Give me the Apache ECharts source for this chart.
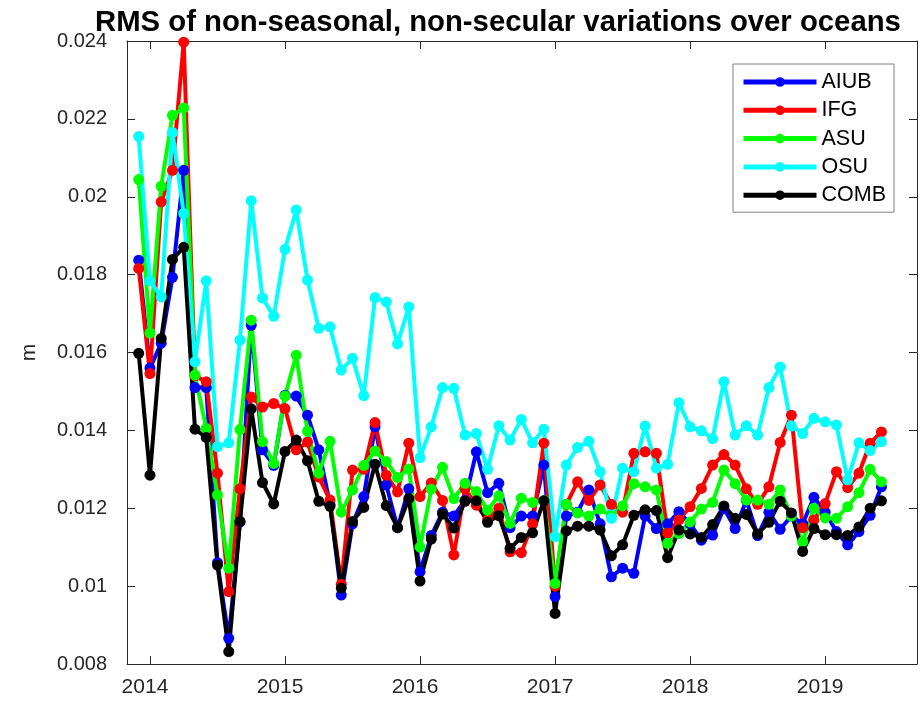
<!DOCTYPE html>
<html>
<head>
<meta charset="utf-8">
<script src="https://cdn.jsdelivr.net/npm/echarts@6/dist/echarts.min.js"></script>
<style>
  html, body { margin: 0; padding: 0; background: #fff; }
  #main { width: 922px; height: 704px; }
</style>
</head>
<body>
<div id="main"></div>
<script>
// monthly solutions, Dec 2013 .. Jun 2019 (decimal years)
var months = [];
for (var y = 2013, m = 12; y < 2019 || (y === 2019 && m <= 6); m++) {
  if (m > 12) { m = 1; y++; }
  if (y === 2019 && m > 6) break;
  months.push(y + (m - 1) / 12);
}
var yearTicks = [2014, 2015, 2016, 2017, 2018, 2019];

var aiub = [0.01837, 0.0156, 0.01624, 0.01793, 0.02068, 0.0151, 0.0151, 0.0106, 0.00866, 0.01165,
  0.0167, 0.0135, 0.0131, 0.0149, 0.01488, 0.01439, 0.0135, 0.0121, 0.00977, 0.0116,
  0.0123, 0.01409, 0.0126, 0.0115, 0.0125, 0.01037, 0.0113, 0.0119, 0.0118, 0.0122,
  0.01345, 0.0124, 0.01264, 0.0115, 0.0118, 0.0118, 0.01311, 0.00973, 0.0118, 0.0119,
  0.01247, 0.0116, 0.01024, 0.01046, 0.01033, 0.0118, 0.01148, 0.0116, 0.01191, 0.0116,
  0.01118, 0.01131, 0.0120, 0.01148, 0.0122, 0.0113, 0.0119, 0.01146, 0.0118, 0.0116,
  0.01228, 0.0119, 0.0114, 0.01106, 0.0114, 0.01182, 0.01255];
var ifg = [0.01816, 0.01546, 0.01987, 0.02068, 0.02397, 0.0154, 0.01525, 0.0129, 0.00986, 0.0125,
  0.01486, 0.0146, 0.01469, 0.01456, 0.0135, 0.0137, 0.0128, 0.01221, 0.01005, 0.01298,
  0.0130, 0.0142, 0.01285, 0.01242, 0.01367, 0.0123, 0.01265, 0.0122, 0.0108, 0.0125,
  0.01208, 0.0117, 0.0120, 0.01088, 0.01086, 0.0116, 0.01367, 0.0100, 0.0121, 0.01268,
  0.0122, 0.0126, 0.0121, 0.0119, 0.01341, 0.01345, 0.01341, 0.01136, 0.0117, 0.01204,
  0.01251, 0.01311, 0.01338, 0.01311, 0.0125, 0.0121, 0.01255, 0.01369, 0.01439, 0.0115,
  0.0117, 0.01212, 0.01294, 0.01253, 0.0129, 0.01367, 0.01396];
var asu = [0.02044, 0.0165, 0.02027, 0.02209, 0.02228, 0.01542, 0.01405, 0.01234, 0.01046, 0.01402,
  0.01683, 0.01371, 0.01315, 0.01488, 0.01593, 0.01398, 0.0129, 0.01372, 0.0119, 0.01247,
  0.0131, 0.01347, 0.0132, 0.01279, 0.01301, 0.011, 0.01249, 0.01305, 0.01225, 0.01264,
  0.01243, 0.01195, 0.01232, 0.01161, 0.01226, 0.01215, 0.0122, 0.01007, 0.0121, 0.01188,
  0.0118, 0.01198, 0.0118, 0.01206, 0.01263, 0.01255, 0.01247, 0.0111, 0.01135, 0.01165,
  0.01198, 0.01215, 0.01298, 0.01263, 0.01221, 0.01221, 0.0121, 0.01247, 0.0118, 0.01114,
  0.012, 0.01175, 0.01174, 0.01204, 0.0124, 0.013, 0.01268];
var osu = [0.02155, 0.01784, 0.01743, 0.02165, 0.01957, 0.01576, 0.01784, 0.01358, 0.01368, 0.01632,
  0.0199, 0.0174, 0.01693, 0.01865, 0.01966, 0.01786, 0.01662, 0.01666, 0.01555, 0.01585,
  0.01489, 0.01741, 0.0173, 0.01622, 0.01717, 0.0133, 0.01409, 0.0151, 0.01508, 0.01388,
  0.01392, 0.0130, 0.01412, 0.01375, 0.01428, 0.01368, 0.01403, 0.01127, 0.01311, 0.01356,
  0.01372, 0.01294, 0.01174, 0.01303, 0.01294, 0.01411, 0.01303, 0.01313, 0.01471, 0.01409,
  0.01399, 0.01379, 0.01525, 0.01388, 0.01412, 0.01388, 0.0151, 0.01563, 0.01411, 0.01392,
  0.01431, 0.01422, 0.01414, 0.01273, 0.01368, 0.01348, 0.01371];
var comb = [0.01598, 0.01285, 0.01636, 0.01839, 0.0187, 0.01403, 0.01382, 0.01054, 0.00832, 0.01166,
  0.01455, 0.01266, 0.01211, 0.01346, 0.01375, 0.01322, 0.01218, 0.01205, 0.00995, 0.01166,
  0.01202, 0.01313, 0.01207, 0.0115, 0.01225, 0.01013, 0.01121, 0.01185, 0.01149, 0.01218,
  0.01219, 0.01164, 0.01181, 0.01097, 0.01125, 0.01137, 0.01219, 0.0093, 0.01142, 0.01154,
  0.01154, 0.01144, 0.01078, 0.01106, 0.01182, 0.01196, 0.01194, 0.01073, 0.01144, 0.01134,
  0.01125, 0.01158, 0.01206, 0.01174, 0.01184, 0.01134, 0.01164, 0.01218, 0.01188, 0.01089,
  0.01148, 0.01132, 0.01132, 0.0113, 0.01152, 0.012, 0.01219];

var names = ["AIUB", "IFG", "ASU", "OSU", "COMB"];
var colors = ["#0000ff", "#ff0000", "#00ff00", "#00ffff", "#000000"];
var values = [aiub, ifg, asu, osu, comb];

(function () {
  var myChart = echarts.init(document.getElementById("main"));
  var font = "'Liberation Sans', Arial, sans-serif";
  var axisColor = "#262626";

  function pairs(vals) {
    return vals.map(function (v, i) { return [months[i], v]; });
  }

  var series = names.map(function (n, k) {
    return {
      name: n,
      type: "line",
      data: pairs(values[k]),
      symbol: "circle",
      symbolSize: 11,
      showSymbol: true,
      lineStyle: { width: 4, color: colors[k] },
      itemStyle: { color: colors[k] },
      animation: false
    };
  });

  var xBase = {
    type: "value",
    min: 2013.83,
    max: 2019.68,
    axisLine: { lineStyle: { color: axisColor, width: 1 } },
    axisTick: { inside: true, length: 8, customValues: yearTicks, lineStyle: { color: axisColor } },
    splitLine: { show: false }
  };
  var yBase = {
    type: "value",
    min: 0.008,
    max: 0.024,
    interval: 0.002,
    axisLine: { show: true, lineStyle: { color: axisColor, width: 1 } },
    axisTick: { show: true, inside: true, length: 8, lineStyle: { color: axisColor } },
    splitLine: { show: false }
  };

  var option = {
    backgroundColor: "#ffffff",
    title: {
      text: "RMS of non-seasonal, non-secular variations over oceans",
      left: 90,
      top: 3,
      textStyle: { fontFamily: font, fontSize: 29.3, fontWeight: "bold", color: "#000" }
    },
    legend: {
      data: names,
      orient: "vertical",
      left: 733,
      top: 64,
      padding: [7, 8, 6, 8],
      itemWidth: 73,
      itemHeight: 12,
      itemGap: 6.3,
      backgroundColor: "#fff",
      borderColor: "#808080",
      borderWidth: 1,
      lineStyle: { width: 5 },
      textStyle: { fontFamily: font, fontSize: 21.5, lineHeight: 22, color: "#000" }
    },
    grid: { left: 127, right: 5, top: 41, bottom: 40 },
    xAxis: [
      Object.assign({}, xBase, {
        position: "bottom",
        axisLabel: {
          customValues: yearTicks,
          margin: 13,
          padding: [0, 10, 0, 0],
          fontFamily: font,
          fontSize: 21,
          color: axisColor,
          formatter: function (v) { return String(Math.round(v)); }
        }
      }),
      Object.assign({}, xBase, {
        position: "top",
        axisLabel: { show: false }
      })
    ],
    yAxis: [
      Object.assign({}, yBase, {
        position: "left",
        name: "m",
        nameLocation: "middle",
        nameGap: 87,
        nameTextStyle: { fontFamily: font, fontSize: 21, color: axisColor },
        axisLabel: {
          margin: 20,
          fontFamily: font,
          fontSize: 20,
          color: axisColor,
          formatter: function (v) { return String(parseFloat(v.toFixed(3))); }
        }
      }),
      Object.assign({}, yBase, {
        position: "right",
        axisLabel: { show: false }
      })
    ],
    series: series
  };

  myChart.setOption(option);
  window.addEventListener("resize", function () {
    myChart.resize();
  });
})();
</script>
</body>
</html>
